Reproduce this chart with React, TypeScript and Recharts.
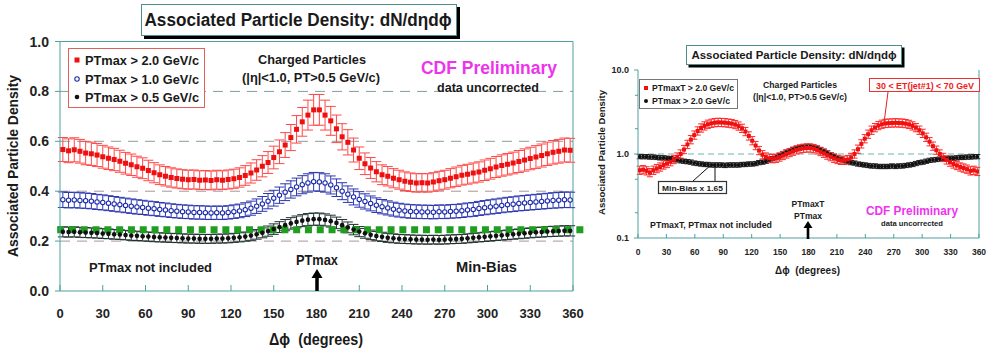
import React from 'react';
import { ComposedChart, Scatter, XAxis, YAxis, ErrorBar, ReferenceLine } from 'recharts';

const FONT = '"Liberation Sans", Arial, Helvetica, sans-serif';
const TEAL = '#4f9f9f';

// ---------- Left panel data (bins of 4 degrees) ----------
const LEFT_ANGLES = [
  2, 6, 10, 14, 18, 22, 26, 30, 34, 38,
  42, 46, 50, 54, 58, 62, 66, 70, 74, 78,
  82, 86, 90, 94, 98, 102, 106, 110, 114, 118,
  122, 126, 130, 134, 138, 142, 146, 150, 154, 158,
  162, 166, 170, 174, 178, 182, 186, 190, 194, 198,
  202, 206, 210, 214, 218, 222, 226, 230, 234, 238,
  242, 246, 250, 254, 258, 262, 266, 270, 274, 278,
  282, 286, 290, 294, 298, 302, 306, 310, 314, 318,
  322, 326, 330, 334, 338, 342, 346, 350, 354, 358,
];
const PTMAX_GT_2_0 = [
  0.567, 0.562, 0.566, 0.560, 0.553, 0.550, 0.545, 0.538, 0.532, 0.527,
  0.520, 0.512, 0.506, 0.498, 0.492, 0.483, 0.474, 0.466, 0.460, 0.455,
  0.451, 0.448, 0.446, 0.447, 0.444, 0.445, 0.443, 0.446, 0.444, 0.447,
  0.450, 0.455, 0.463, 0.473, 0.485, 0.500, 0.515, 0.535, 0.558, 0.585,
  0.615, 0.648, 0.678, 0.705, 0.726, 0.726, 0.705, 0.682, 0.650, 0.618,
  0.596, 0.565, 0.532, 0.510, 0.493, 0.478, 0.466, 0.460, 0.452, 0.446,
  0.440, 0.436, 0.433, 0.434, 0.433, 0.437, 0.442, 0.446, 0.452, 0.458,
  0.464, 0.468, 0.473, 0.477, 0.484, 0.490, 0.497, 0.503, 0.508, 0.513,
  0.519, 0.525, 0.531, 0.537, 0.543, 0.550, 0.556, 0.560, 0.565, 0.564,
];
const PTMAX_GT_1_0 = [
  0.366, 0.364, 0.365, 0.363, 0.362, 0.360, 0.357, 0.355, 0.352, 0.349,
  0.346, 0.343, 0.340, 0.337, 0.335, 0.332, 0.330, 0.327, 0.325, 0.322,
  0.320, 0.318, 0.317, 0.315, 0.315, 0.314, 0.313, 0.314, 0.313, 0.315,
  0.318, 0.321, 0.326, 0.332, 0.340, 0.349, 0.360, 0.372, 0.384, 0.396,
  0.407, 0.417, 0.426, 0.433, 0.438, 0.437, 0.433, 0.425, 0.414, 0.400,
  0.388, 0.377, 0.367, 0.359, 0.351, 0.344, 0.338, 0.333, 0.328, 0.324,
  0.321, 0.319, 0.318, 0.317, 0.317, 0.316, 0.318, 0.317, 0.319, 0.320,
  0.322, 0.325, 0.327, 0.331, 0.334, 0.337, 0.340, 0.343, 0.346, 0.348,
  0.351, 0.353, 0.355, 0.357, 0.359, 0.361, 0.363, 0.364, 0.366, 0.365,
];
const PTMAX_GT_0_5 = [
  0.237, 0.236, 0.237, 0.235, 0.234, 0.233, 0.232, 0.230, 0.229, 0.227,
  0.226, 0.224, 0.222, 0.221, 0.219, 0.218, 0.216, 0.215, 0.214, 0.213,
  0.212, 0.211, 0.210, 0.210, 0.209, 0.209, 0.209, 0.210, 0.210, 0.211,
  0.213, 0.215, 0.218, 0.222, 0.227, 0.233, 0.240, 0.248, 0.256, 0.264,
  0.271, 0.277, 0.282, 0.286, 0.288, 0.288, 0.285, 0.280, 0.273, 0.264,
  0.255, 0.246, 0.238, 0.231, 0.225, 0.220, 0.217, 0.213, 0.211, 0.209,
  0.208, 0.207, 0.206, 0.206, 0.205, 0.206, 0.205, 0.206, 0.207, 0.208,
  0.209, 0.211, 0.213, 0.215, 0.217, 0.219, 0.221, 0.223, 0.225, 0.227,
  0.229, 0.231, 0.233, 0.235, 0.236, 0.238, 0.239, 0.240, 0.241, 0.241,
];
const MIN_BIAS_LEVEL = 0.245;
const LEFT_REL_ERR = 0.085;

// ---------- Right panel data (bins of 3.6 degrees) ----------
const RIGHT_ANGLES = [
  1.8, 5.4, 9, 12.6, 16.2, 19.8, 23.4, 27, 30.6, 34.2,
  37.8, 41.4, 45, 48.6, 52.2, 55.8, 59.4, 63, 66.6, 70.2,
  73.8, 77.4, 81, 84.6, 88.2, 91.8, 95.4, 99, 102.6, 106.2,
  109.8, 113.4, 117, 120.6, 124.2, 127.8, 131.4, 135, 138.6, 142.2,
  145.8, 149.4, 153, 156.6, 160.2, 163.8, 167.4, 171, 174.6, 178.2,
  181.8, 185.4, 189, 192.6, 196.2, 199.8, 203.4, 207, 210.6, 214.2,
  217.8, 221.4, 225, 228.6, 232.2, 235.8, 239.4, 243, 246.6, 250.2,
  253.8, 257.4, 261, 264.6, 268.2, 271.8, 275.4, 279, 282.6, 286.2,
  289.8, 293.4, 297, 300.6, 304.2, 307.8, 311.4, 315, 318.6, 322.2,
  325.8, 329.4, 333, 336.6, 340.2, 343.8, 347.4, 351, 354.6, 358.2,
];
const PTMAXT_GT_2_0 = [
  0.64, 0.65, 0.63, 0.60, 0.64, 0.67, 0.70, 0.74, 0.77, 0.81,
  0.86, 0.92, 1.00, 1.13, 1.30, 1.48, 1.68, 1.88, 2.04, 2.16,
  2.26, 2.32, 2.36, 2.38, 2.37, 2.36, 2.33, 2.30, 2.24, 2.15,
  2.02, 1.85, 1.64, 1.44, 1.26, 1.10, 0.98, 0.92, 0.89, 0.88,
  0.89, 0.92, 0.96, 1.00, 1.04, 1.08, 1.12, 1.15, 1.17, 1.18,
  1.18, 1.16, 1.12, 1.07, 1.02, 0.97, 0.93, 0.89, 0.86, 0.84,
  0.84, 0.86, 0.91, 1.00, 1.14, 1.32, 1.52, 1.72, 1.92, 2.06,
  2.18, 2.26, 2.31, 2.33, 2.34, 2.35, 2.34, 2.33, 2.30, 2.25,
  2.16, 2.06, 1.92, 1.76, 1.58, 1.40, 1.24, 1.11, 1.00, 0.91,
  0.85, 0.80, 0.76, 0.73, 0.70, 0.68, 0.66, 0.63, 0.64, 0.62,
];
const PTMAX_GT_2_0_MB = [
  0.93, 0.93, 0.93, 0.92, 0.92, 0.91, 0.90, 0.90, 0.89, 0.88,
  0.86, 0.85, 0.83, 0.82, 0.81, 0.80, 0.78, 0.77, 0.76, 0.75,
  0.75, 0.74, 0.74, 0.74, 0.74, 0.73, 0.74, 0.74, 0.74, 0.74,
  0.75, 0.75, 0.76, 0.76, 0.77, 0.79, 0.80, 0.82, 0.85, 0.88,
  0.92, 0.96, 1.00, 1.05, 1.09, 1.13, 1.16, 1.19, 1.21, 1.22,
  1.22, 1.20, 1.17, 1.13, 1.08, 1.03, 0.98, 0.94, 0.90, 0.86,
  0.83, 0.81, 0.79, 0.78, 0.76, 0.75, 0.74, 0.73, 0.72, 0.72,
  0.71, 0.71, 0.71, 0.71, 0.72, 0.71, 0.72, 0.72, 0.73, 0.74,
  0.75, 0.77, 0.79, 0.80, 0.82, 0.84, 0.85, 0.86, 0.87, 0.88,
  0.88, 0.89, 0.89, 0.90, 0.91, 0.91, 0.92, 0.92, 0.93, 0.93,
];
const RIGHT_RED_ERR_FACTOR = 1.12;
const RIGHT_BLACK_ERR_FACTOR = 1.06;

// ---------- Axis ticks ----------
const X_TICKS = [0, 30, 60, 90, 120, 150, 180, 210, 240, 270, 300, 330, 360];
const LEFT_Y_TICKS = [0, 0.2, 0.4, 0.6, 0.8, 1.0];
const RIGHT_Y_TICKS = [0.1, 0.2, 0.5, 1, 2, 5, 10];
const RIGHT_Y_LABELS: Record<string, string> = { '0.1': '0.1', '1': '1.0', '10': '10.0' };
const LEFT_DASHED = [
  { y: 0.8, c: '#7f9f9f' },
  { y: 0.6, c: '#8a9c9c' },
  { y: 0.4, c: '#a99497' },
  { y: 0.2, c: '#a99497' },
];

const leftData = (vals: number[]) =>
  LEFT_ANGLES.map((x, i) => ({ x, y: vals[i], e: vals[i] * LEFT_REL_ERR }));
const rightData = (vals: number[], f: number) =>
  RIGHT_ANGLES.map((x, i) => ({ x, y: vals[i], e: [vals[i] - vals[i] / f, vals[i] * f - vals[i]] }));

const redL = leftData(PTMAX_GT_2_0);
const blueL = leftData(PTMAX_GT_1_0);
const blackL = leftData(PTMAX_GT_0_5);
const redR = rightData(PTMAXT_GT_2_0, RIGHT_RED_ERR_FACTOR);
const blackR = rightData(PTMAX_GT_2_0_MB, RIGHT_BLACK_ERR_FACTOR);

// ---------- shapes ----------
const square = (size: number, fill: string) => (p: any) =>
  <rect x={p.cx - size / 2} y={p.cy - size / 2} width={size} height={size} fill={fill} />;
const dot = (r: number, fill: string, stroke?: string, sw = 1) => (p: any) =>
  <circle cx={p.cx} cy={p.cy} r={r} fill={fill} stroke={stroke || 'none'} strokeWidth={sw} />;

// ---------- ticks ----------
const LeftXTick = (p: any) => (
  <g>
    <line x1={p.x} y1={p.y} x2={p.x} y2={p.y - 6} stroke={TEAL} />
    <text x={p.x} y={p.y + 26.5} textAnchor="middle" fontSize={13} fontWeight="bold" fontFamily={FONT} fill="#222">
      {p.payload.value}
    </text>
  </g>
);
const LeftYTick = (p: any) => (
  <g>
    <line x1={p.x} y1={p.y} x2={p.x - 5} y2={p.y} stroke={TEAL} />
    <text x={p.x - 11} y={p.y + 5} textAnchor="end" fontSize={14} fontWeight="bold" fontFamily={FONT} fill="#222">
      {Number(p.payload.value).toFixed(1)}
    </text>
  </g>
);
const RightXTick = (p: any) => (
  <g>
    <line x1={p.x} y1={p.y} x2={p.x} y2={p.y - 4} stroke={TEAL} />
    <text x={p.x} y={p.y + 17} textAnchor="middle" fontSize={8.5} fontWeight="bold" fontFamily={FONT} fill="#222">
      {p.payload.value}
    </text>
  </g>
);
const RightYTick = (p: any) => {
  const lab = RIGHT_Y_LABELS[String(p.payload.value)];
  return (
    <g>
      <line x1={p.x} y1={p.y} x2={p.x - (lab ? 4 : 3)} y2={p.y} stroke={TEAL} />
      {lab ? (
        <text x={p.x - 9} y={p.y + 3.3} textAnchor="end" fontSize={9} fontWeight="bold" fontFamily={FONT} fill="#222">
          {lab}
        </text>
      ) : null}
    </g>
  );
};

// ---------- text helper ----------
function T(props: { x: number; y: number; s: number; w?: number; fill?: string; anchor?: string; rot?: boolean; children: any }) {
  const { x, y, s, w, fill = '#1a1a1a', anchor = 'middle', rot, children } = props;
  return (
    <text
      x={x}
      y={y}
      fontSize={s}
      fontWeight="bold"
      fontFamily={FONT}
      fill={fill}
      textAnchor={anchor as any}
      textLength={w}
      lengthAdjust={w ? 'spacingAndGlyphs' : undefined}
      transform={rot ? `rotate(-90 ${x} ${y})` : undefined}
    >
      {children}
    </text>
  );
}

function Arrow({ x, top, bottom, hw, hh, sw }: { x: number; top: number; bottom: number; hw: number; hh: number; sw: number }) {
  return (
    <g fill="#000">
      <rect x={x - sw / 2} y={top + hh - 1} width={sw} height={bottom - top - hh + 1} />
      <polygon points={`${x - hw},${top + hh} ${x + hw},${top + hh} ${x},${top}`} />
    </g>
  );
}

function LeftChart() {
  return (
    <ComposedChart width={590} height={350} margin={{ top: 41.5, right: 17, bottom: 29, left: 0 }}>
      <XAxis
        type="number"
        dataKey="x"
        domain={[0, 360]}
        ticks={X_TICKS}
        interval={0}
        tickSize={0}
        tickMargin={0}
        tickLine={false}
        tick={LeftXTick}
        axisLine={{ stroke: TEAL }}
        height={30}
        allowDataOverflow
      />
      <YAxis
        type="number"
        domain={[0, 1]}
        ticks={LEFT_Y_TICKS}
        interval={0}
        tickSize={0}
        tickMargin={0}
        tickLine={false}
        tick={LeftYTick}
        axisLine={{ stroke: TEAL }}
        width={60}
        allowDataOverflow
      />
      {LEFT_DASHED.map((d) => (
        <ReferenceLine key={d.y} y={d.y} stroke={d.c} strokeDasharray="10 7" />
      ))}
      <ReferenceLine y={1} stroke={TEAL} />
      <ReferenceLine x={360} stroke={TEAL} />
      <Scatter data={blackL} dataKey="y" isAnimationActive={false} shape={dot(2.3, '#111')}>
        <ErrorBar dataKey="e" direction="y" width={5} stroke="#1f3030" strokeWidth={1} />
      </Scatter>
      <ReferenceLine
        segment={[{ x: -2, y: MIN_BIAS_LEVEL }, { x: 369, y: MIN_BIAS_LEVEL }]}
        stroke="#1f9e1f"
        strokeWidth={7}
        strokeDasharray="7 4.8"
        ifOverflow="visible"
      />
      <Scatter data={blueL} dataKey="y" isAnimationActive={false} shape={dot(2.2, '#fff', '#1a2aaa', 1.1)}>
        <ErrorBar dataKey="e" direction="y" width={5} stroke="#2a36b0" strokeWidth={1} />
      </Scatter>
      <Scatter data={redL} dataKey="y" isAnimationActive={false} shape={square(5, '#ee1010')}>
        <ErrorBar dataKey="e" direction="y" width={5} stroke="#ff4848" strokeWidth={1} />
      </Scatter>
    </ComposedChart>
  );
}

function RightChart() {
  return (
    <ComposedChart width={396} height={350} margin={{ top: 70, right: 7, bottom: 82, left: 0 }}>
      <XAxis
        type="number"
        dataKey="x"
        domain={[0, 360]}
        ticks={X_TICKS}
        interval={0}
        tickSize={0}
        tickMargin={0}
        tickLine={false}
        tick={RightXTick}
        axisLine={{ stroke: TEAL }}
        height={30}
        allowDataOverflow
      />
      <YAxis
        type="number"
        scale="log"
        domain={[0.1, 10]}
        ticks={RIGHT_Y_TICKS}
        interval={0}
        tickSize={0}
        tickMargin={0}
        tickLine={false}
        tick={RightYTick}
        axisLine={{ stroke: TEAL }}
        width={48}
        allowDataOverflow
      />
      <ReferenceLine y={1} stroke="#6fb3b3" strokeDasharray="6 4" />
      <ReferenceLine x={360} stroke={TEAL} />
      <Scatter data={blackR} dataKey="y" isAnimationActive={false} shape={dot(1.9, '#111')}>
        <ErrorBar dataKey="e" direction="y" width={3} stroke="#222" strokeWidth={1} />
      </Scatter>
      <Scatter data={redR} dataKey="y" isAnimationActive={false} shape={square(4, '#f01010')}>
        <ErrorBar dataKey="e" direction="y" width={3} stroke="#ff2a2a" strokeWidth={1} />
      </Scatter>
    </ComposedChart>
  );
}

function Overlay() {
  return (
    <svg width={986} height={350} style={{ position: 'absolute', left: 0, top: 0, pointerEvents: 'none' }}>
      {/* ----- left panel ----- */}
      <rect x={144} y={7} width={316} height={32} fill="#000" />
      <rect x={141.5} y={4.5} width={315} height={31} fill="#fff" stroke="#4d8f8f" />
      <T x={298} y={26} s={18} w={307}>Associated Particle Density: dN/dηdϕ</T>

      <rect x={68.5} y={48.5} width={136} height={59} fill="#fff" stroke="#e06060" />
      <rect x={74.5} y={57.5} width={5} height={5} fill="#ee1010" />
      <circle cx={77} cy={79} r={2.2} fill="#fff" stroke="#1a2aaa" strokeWidth={1.1} />
      <circle cx={77} cy={97} r={2.3} fill="#111" />
      <T x={85} y={64.5} s={12.5} w={114} anchor="start">PTmax &gt; 2.0 GeV/c</T>
      <T x={85} y={83.5} s={12.5} w={114} anchor="start">PTmax &gt; 1.0 GeV/c</T>
      <T x={85} y={101.5} s={12.5} w={114} anchor="start">PTmax &gt; 0.5 GeV/c</T>

      <T x={312} y={64} s={13} w={108}>Charged Particles</T>
      <T x={311} y={82} s={13} w={138}>(|η|&lt;1.0, PT&gt;0.5 GeV/c)</T>
      <T x={489} y={74} s={18} w={136} fill="#ee33ee">CDF Preliminary</T>
      <T x={488} y={92} s={13} w={102}>data uncorrected</T>
      <T x={150.5} y={272} s={13.5} w={123}>PTmax not included</T>
      <T x={317} y={265} s={15} w={42}>PTmax</T>
      <Arrow x={317} top={269} bottom={291} hw={5.5} hh={9} sw={3.5} />
      <T x={486.5} y={272} s={15} w={61}>Min-Bias</T>
      <T x={18} y={166} s={14} w={182} rot>Associated Particle Density</T>
      <T x={316} y={345} s={16} w={94}>Δϕ&#160; (degrees)</T>

      {/* ----- right panel ----- */}
      <rect x={688.5} y={47.5} width={216} height={20} fill="#000" />
      <rect x={686.5} y={45.5} width={215} height={19} fill="#fff" stroke="#4d8f8f" />
      <T x={794} y={59} s={11} w={205}>Associated Particle Density: dN/dηdϕ</T>

      <rect x={639.5} y={79.5} width={98} height={29} fill="#fff" stroke="#777" />
      <rect x={644} y={86} width={4} height={4} fill="#f01010" />
      <circle cx={646} cy={101} r={2} fill="#111" />
      <T x={652} y={91} s={8.5} w={82} anchor="start">PTmaxT &gt; 2.0 GeV/c</T>
      <T x={652} y={104} s={8.5} w={78} anchor="start">PTmax &gt; 2.0 GeV/c</T>

      <T x={800} y={87.5} s={8.5} w={74}>Charged Particles</T>
      <T x={800} y={99.5} s={8.5} w={94}>(|η|&lt;1.0, PT&gt;0.5 GeV/c)</T>

      <rect x={869.5} y={78.5} width={110} height={13} fill="#fff" stroke="#f03030" />
      <T x={925} y={88.5} s={8.5} w={98} fill="#f02020">30 &lt; ET(jet#1) &lt; 70 GeV</T>
      <line x1={888} y1={92} x2={884} y2={123} stroke="#e02020" />

      <line x1={693} y1={181} x2={712} y2={164} stroke="#111" />
      <line x1={715} y1={181} x2={715} y2={164} stroke="#111" />
      <rect x={658.5} y={181.5} width={68} height={12} fill="#fff" stroke="#333" strokeWidth={1.2} />
      <T x={692.5} y={190.5} s={8} w={61}>Min-Bias x 1.65</T>

      <T x={711} y={228} s={8.5} w={122}>PTmaxT, PTmax not included</T>
      <T x={808} y={207} s={8.5} w={33}>PTmaxT</T>
      <T x={808} y={218.5} s={8.5} w={28}>PTmax</T>
      <Arrow x={808} top={221} bottom={239} hw={4.5} hh={7} sw={2.6} />
      <T x={912} y={214.5} s={12.5} w={92} fill="#ee33ee">CDF Preliminary</T>
      <T x={912} y={226} s={7} w={62}>data uncorrected</T>
      <T x={605} y={152.5} s={9} w={125} rot>Associated Particle Density</T>
      <T x={807.5} y={274} s={10.5} w={65}>Δϕ&#160; (degrees)</T>
    </svg>
  );
}

export default function App() {
  return (
    <div style={{ position: 'absolute', left: 0, top: 0, width: 986, height: 350, background: '#fff', overflow: 'hidden' }}>
      <div style={{ position: 'absolute', left: 0, top: 0 }}>
        <LeftChart />
      </div>
      <div style={{ position: 'absolute', left: 590, top: 0 }}>
        <RightChart />
      </div>
      <Overlay />
    </div>
  );
}
